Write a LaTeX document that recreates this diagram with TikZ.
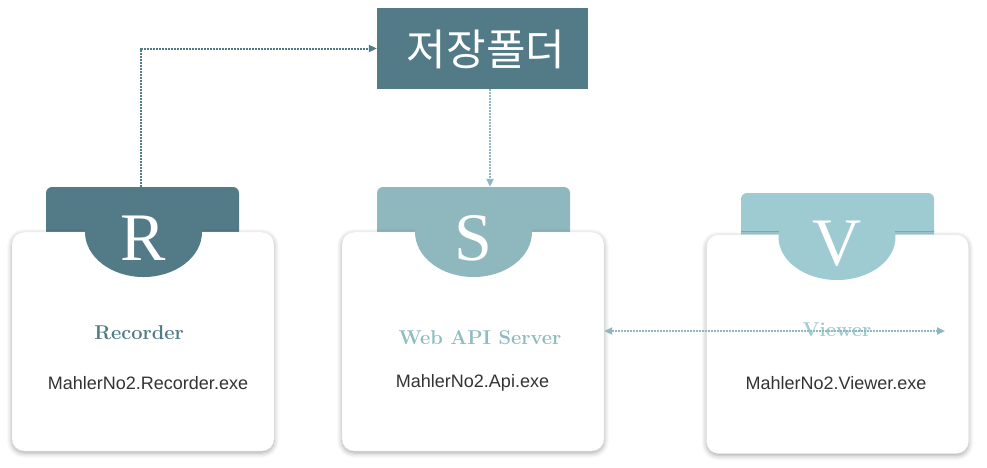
\documentclass[tikz,border=0pt]{standalone}
\usepackage{fontspec}
\newfontfamily\krfont{Noto Sans CJK KR}
\newfontfamily\arialfont{Liberation Sans}
\newfontfamily\letterfont{Liberation Serif}
\usetikzlibrary{arrows.meta,shapes.geometric,shadows.blur}
\definecolor{cR}{HTML}{527A87}
\definecolor{cS}{HTML}{8EB8BD}
\definecolor{cV}{HTML}{9DCBD1}
\definecolor{cSt}{HTML}{8EBCC0}
\definecolor{cVt}{HTML}{9ECCD0}
\definecolor{exe}{HTML}{333333}
\tikzset{
  tabbox/.style={rectangle, rounded corners=6pt, minimum width=193pt, minimum height=53pt, inner sep=0pt},
  card/.style={rectangle, rounded corners=12pt, fill=white, draw=gray!18, minimum width=262pt, minimum height=219pt, inner sep=0pt,
    blur shadow={shadow xshift=0pt, shadow yshift=-2pt, shadow blur radius=5pt, shadow opacity=35}},
  bowl/.style={ellipse, minimum width=117pt, minimum height=90pt, inner sep=0pt},
  letter/.style={text=white, font=\letterfont\fontsize{68}{68}\selectfont, inner sep=0pt},
  title/.style={font=\fontsize{20}{20}\selectfont\bfseries, inner sep=0pt},
  exefile/.style={text=exe, font=\arialfont\fontsize{18}{18}\selectfont, inner sep=0pt},
  link/.style={line width=2pt, dash pattern=on 2pt off 1pt},
  tip/.style={-{Triangle[length=8pt,width=7pt]}}
}
\begin{document}
\begin{tikzpicture}[x=1pt,y=-1pt]
\useasboundingbox (0,0) rectangle (987,467);
% folder
\node[rectangle, fill=cR, minimum width=211pt, minimum height=81pt, inner sep=0pt] (folder) at (482.5,48.5) {};
\node[text=white, font=\krfont\fontsize{43}{43}\selectfont, inner sep=0pt] (foldertext) at (486,49) {저장폴더};
% Recorder
\node[tabbox, fill=cR] (rtab) at (142.5,213.5) {};
\node[card] (rcard) at (143,341.5) {};
\node[bowl, fill=cR] (rbowl) at (143.5,232) {};
\node[letter] (rletter) at (143,238) {R};
\node[title, text=cR] (rtitle) at (139,333) {Recorder};
\node[exefile] (rexe) at (148,383) {MahlerNo2.Recorder.exe};
% Server
\node[tabbox, fill=cS] (stab) at (473.5,213.5) {};
\node[card] (scard) at (473,341.5) {};
\node[bowl, fill=cS] (sbowl) at (473.5,232) {};
\node[letter] (sletter) at (473,238) {S};
\node[title, text=cSt] (stitle) at (480,338) {Web API Server};
\node[exefile] (sexe) at (472.5,383) {MahlerNo2.Api.exe};
% Viewer
\node[tabbox, fill=cV] (vtab) at (837.5,219.5) {};
\node[card] (vcard) at (837.5,344) {};
\node[bowl, minimum height=86pt, fill=cV] (vbowl) at (837,237) {};
\node[letter] (vletter) at (837,244) {V};
\node[title, text=cVt] (vtitle) at (837,330) {Viewer};
\node[exefile] (vexe) at (836,383) {MahlerNo2.Viewer.exe};
% connectors
\draw[link, tip, draw=cR] ([xshift=-1.5pt]rtab.north) |- (folder.west);
\draw[link, tip, draw=cS] ([xshift=7.5pt]folder.south) -- ([xshift=16.5pt]stab.north);
\coordinate (vend) at (945,331);
\draw[link, {Triangle[length=8pt,width=7pt]}-{Triangle[length=8pt,width=7pt]}, draw=cS] (scard.east |- vend) -- (vend);
\end{tikzpicture}
\end{document}
